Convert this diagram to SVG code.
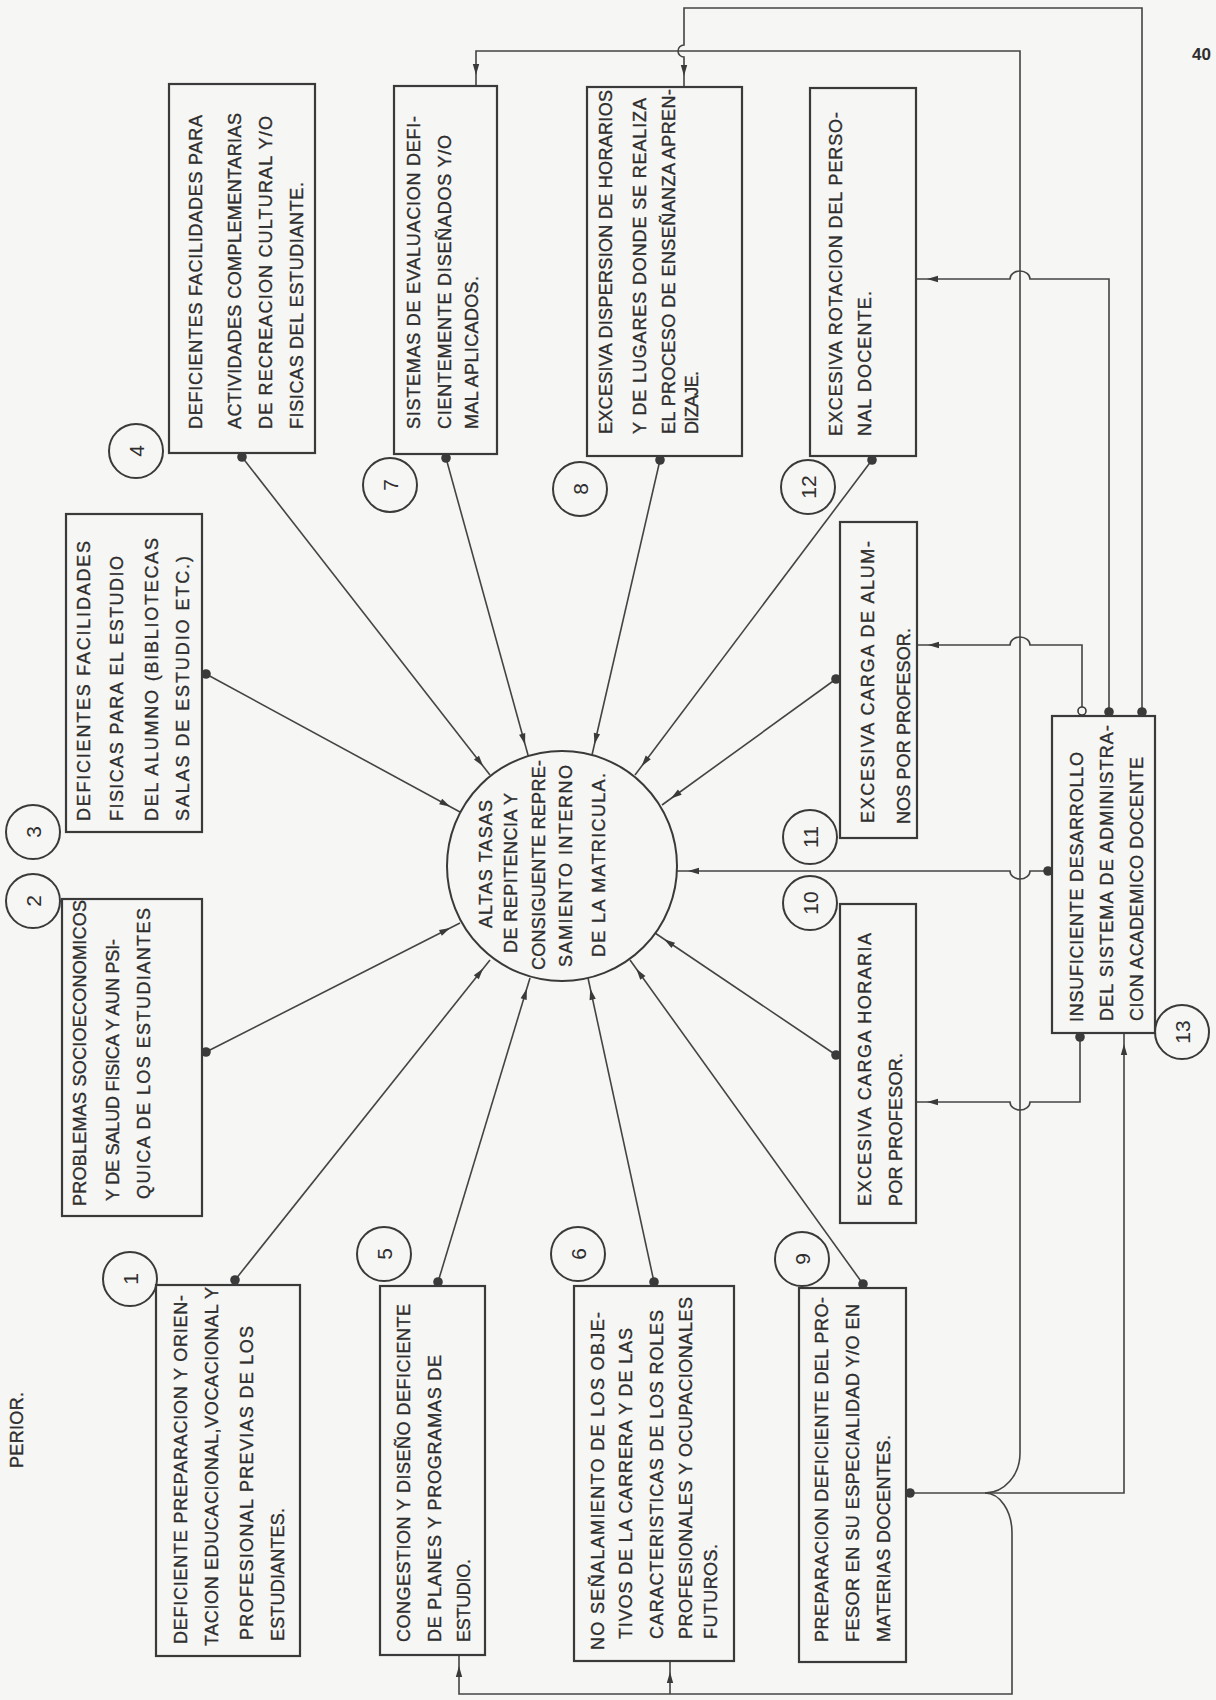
<svg xmlns="http://www.w3.org/2000/svg" width="1216" height="1700" viewBox="0 0 1216 1700">
<defs>
<marker id="arr" markerUnits="userSpaceOnUse" orient="auto" refX="22" refY="0" markerWidth="24" markerHeight="8" overflow="visible">
<path d="M0,-3.2 L11,0 L0,3.2 Z" fill="#3a3a3a"/>
</marker>
<style>
.box{fill:none;stroke:#3a3a3a;stroke-width:2.2}
.num{fill:none;stroke:#3a3a3a;stroke-width:2}
.t{font-family:"Liberation Sans",Arial,sans-serif;font-size:18px;fill:#2e2e2e;stroke:#2e2e2e;stroke-width:0.35}
.n{font-family:"Liberation Sans",Arial,sans-serif;font-size:21px;fill:#2e2e2e;text-anchor:middle;dominant-baseline:central}
.c{fill:none;stroke:#444;stroke-width:1.6}
.a{marker-end:url(#arr)}
.dot{fill:#3a3a3a}
.hol{fill:#f6f6f4;stroke:#3a3a3a;stroke-width:1.6}
</style>
</defs>
<rect width="1216" height="1700" fill="#f6f6f4"/>

<text class="t" transform="translate(22.5,1468) rotate(-90)" textLength="76" lengthAdjust="spacing">PERIOR.</text>
<text x="1192" y="60" font-family="Liberation Sans,Arial,sans-serif" font-size="17" font-weight="bold" fill="#2e2e2e">40</text>

<g id="connectors">
<path class="c a" d="M242,457 L490,775"/>
<path class="c a" d="M446,458 L528,755"/>
<path class="c a" d="M660,460 L592,755"/>
<path class="c a" d="M872,460 L635,775"/>
<path class="c a" d="M836,679 L662,805"/>
<path class="c a" d="M836,1055 L655,933"/>
<path class="c a" d="M863,1284 L630,960"/>
<path class="c a" d="M654,1282 L588,978"/>
<path class="c a" d="M438,1282 L530,978"/>
<path class="c a" d="M235,1280 L490,960"/>
<path class="c a" d="M206,1052 L460,923"/>
<path class="c a" d="M206,674 L460,812"/>
<path class="c a" d="M1048,871 H1030 a10,8 0 0,1 -20,0 H677"/>
<path class="c a" d="M1109,712 V279 H1030 a10,8 0 0,0 -20,0 H916"/>
<path class="c a" d="M1082,708 V645 H1030 a10,8 0 0,0 -20,0 H917"/>
<path class="c a" d="M1080,1037 V1102 H1030 a10,8 0 0,1 -20,0 H916"/>
<path class="c a" d="M1142,712 V8 H684 V45 a6,6 0 0,0 0,12 V87"/>
<path class="c" d="M910,1493 H985"/>
<path class="c a" d="M985,1493 H1124 V1033"/>
<path class="c a" d="M985,1493 A35,40 0 0,0 1020,1453 V51 H476 V86"/>
<path class="c a" d="M985,1493 A27,40 0 0,1 1012,1533 V1694 H459 V1655"/>
<path class="c a" d="M670,1694 V1661"/>
<circle class="dot" cx="242" cy="457" r="4.8"/>
<circle class="dot" cx="446" cy="458" r="4.8"/>
<circle class="dot" cx="660" cy="460" r="4.8"/>
<circle class="dot" cx="872" cy="460" r="4.8"/>
<circle class="dot" cx="836" cy="679" r="4.8"/>
<circle class="dot" cx="836" cy="1055" r="4.8"/>
<circle class="dot" cx="863" cy="1284" r="4.8"/>
<circle class="dot" cx="654" cy="1282" r="4.8"/>
<circle class="dot" cx="438" cy="1282" r="4.8"/>
<circle class="dot" cx="235" cy="1280" r="4.8"/>
<circle class="dot" cx="206" cy="1052" r="4.8"/>
<circle class="dot" cx="206" cy="674" r="4.8"/>
<circle class="dot" cx="1048" cy="871" r="4.8"/>
<circle class="dot" cx="1109" cy="712" r="4.8"/>
<circle class="dot" cx="1142" cy="712" r="4.8"/>
<circle class="hol" cx="1082" cy="711" r="4"/>
<circle class="dot" cx="1080" cy="1037" r="4.8"/>
<circle class="dot" cx="910" cy="1493" r="4.8"/>
</g>

<g id="center">
<circle class="num" cx="562" cy="866" r="115"/>
<text class="t" transform="translate(491.5,928) rotate(-90)" textLength="128" lengthAdjust="spacing">ALTAS TASAS</text>
<text class="t" transform="translate(516.5,953) rotate(-90)" textLength="160" lengthAdjust="spacing">DE REPITENCIA Y</text>
<text class="t" transform="translate(544.5,970) rotate(-90)" textLength="210" lengthAdjust="spacing">CONSIGUENTE REPRE-</text>
<text class="t" transform="translate(571.5,967) rotate(-90)" textLength="202" lengthAdjust="spacing">SAMIENTO INTERNO</text>
<text class="t" transform="translate(604.5,957) rotate(-90)" textLength="184" lengthAdjust="spacing">DE LA MATRICULA.</text>
</g>

<g id="n1">
<rect class="box" x="156" y="1285" width="144" height="371"/>
<circle class="num" cx="130" cy="1279" r="27"/>
<text class="n" transform="translate(130,1279) rotate(-90)">1</text>
<text class="t" transform="translate(186.5,1644) rotate(-90)" textLength="349" lengthAdjust="spacing">DEFICIENTE PREPARACION Y ORIEN-</text>
<text class="t" transform="translate(217.5,1646) rotate(-90)" textLength="359" lengthAdjust="spacing">TACION EDUCACIONAL,VOCACIONAL Y</text>
<text class="t" transform="translate(252.5,1640) rotate(-90)" textLength="314" lengthAdjust="spacing">PROFESIONAL PREVIAS DE LOS</text>
<text class="t" transform="translate(283.5,1641) rotate(-90)" textLength="133" lengthAdjust="spacing">ESTUDIANTES.</text>
</g>

<g id="n2">
<rect class="box" x="62" y="899" width="140" height="317"/>
<circle class="num" cx="33" cy="901" r="27"/>
<text class="n" transform="translate(33,901) rotate(-90)">2</text>
<text class="t" transform="translate(86,1206) rotate(-90)" textLength="306" lengthAdjust="spacing">PROBLEMAS SOCIOECONOMICOS</text>
<text class="t" transform="translate(119,1201) rotate(-90)" textLength="262" lengthAdjust="spacing">Y DE SALUD FISICA Y AUN PSI-</text>
<text class="t" transform="translate(150,1199) rotate(-90)" textLength="291" lengthAdjust="spacing">QUICA DE LOS ESTUDIANTES</text>
</g>

<g id="n3">
<rect class="box" x="66" y="514" width="136" height="318"/>
<circle class="num" cx="33" cy="832" r="27"/>
<text class="n" transform="translate(33,832) rotate(-90)">3</text>
<text class="t" transform="translate(90,821) rotate(-90)" textLength="280" lengthAdjust="spacing">DEFICIENTES FACILIDADES</text>
<text class="t" transform="translate(123,821) rotate(-90)" textLength="265" lengthAdjust="spacing">FISICAS PARA EL ESTUDIO</text>
<text class="t" transform="translate(157.5,821) rotate(-90)" textLength="283" lengthAdjust="spacing">DEL ALUMNO (BIBLIOTECAS</text>
<text class="t" transform="translate(189,821) rotate(-90)" textLength="265" lengthAdjust="spacing">SALAS DE ESTUDIO ETC.)</text>
</g>

<g id="n4">
<rect class="box" x="169" y="84" width="146" height="369"/>
<circle class="num" cx="136" cy="451" r="27"/>
<text class="n" transform="translate(136,451) rotate(-90)">4</text>
<text class="t" transform="translate(202,429) rotate(-90)" textLength="314" lengthAdjust="spacing">DEFICIENTES FACILIDADES PARA</text>
<text class="t" transform="translate(241,429) rotate(-90)" textLength="316" lengthAdjust="spacing">ACTIVIDADES COMPLEMENTARIAS</text>
<text class="t" transform="translate(272,429) rotate(-90)" textLength="313" lengthAdjust="spacing">DE RECREACION CULTURAL Y/O</text>
<text class="t" transform="translate(303,429) rotate(-90)" textLength="247" lengthAdjust="spacing">FISICAS DEL ESTUDIANTE.</text>
</g>

<g id="n5">
<rect class="box" x="380" y="1286" width="105" height="369"/>
<circle class="num" cx="384" cy="1254" r="27"/>
<text class="n" transform="translate(384,1254) rotate(-90)">5</text>
<text class="t" transform="translate(410,1642) rotate(-90)" textLength="338" lengthAdjust="spacing">CONGESTION Y DISEÑO DEFICIENTE</text>
<text class="t" transform="translate(441,1642) rotate(-90)" textLength="287" lengthAdjust="spacing">DE PLANES Y PROGRAMAS DE</text>
<text class="t" transform="translate(470,1642) rotate(-90)" textLength="83" lengthAdjust="spacing">ESTUDIO.</text>
</g>

<g id="n6">
<rect class="box" x="574" y="1286" width="160" height="375"/>
<circle class="num" cx="578" cy="1254" r="27"/>
<text class="n" transform="translate(578,1254) rotate(-90)">6</text>
<text class="t" transform="translate(603.5,1650) rotate(-90)" textLength="338" lengthAdjust="spacing">NO SEÑALAMIENTO DE LOS OBJE-</text>
<text class="t" transform="translate(632,1639) rotate(-90)" textLength="311" lengthAdjust="spacing">TIVOS DE LA CARRERA Y DE LAS</text>
<text class="t" transform="translate(663,1639) rotate(-90)" textLength="329" lengthAdjust="spacing">CARACTERISTICAS DE LOS ROLES</text>
<text class="t" transform="translate(692,1639) rotate(-90)" textLength="342" lengthAdjust="spacing">PROFESIONALES Y OCUPACIONALES</text>
<text class="t" transform="translate(717,1639) rotate(-90)" textLength="95" lengthAdjust="spacing">FUTUROS.</text>
</g>

<g id="n7">
<rect class="box" x="394" y="86" width="103" height="368"/>
<circle class="num" cx="390" cy="485" r="27"/>
<text class="n" transform="translate(390,485) rotate(-90)">7</text>
<text class="t" transform="translate(419.5,429) rotate(-90)" textLength="313" lengthAdjust="spacing">SISTEMAS DE EVALUACION DEFI-</text>
<text class="t" transform="translate(450.5,429) rotate(-90)" textLength="294" lengthAdjust="spacing">CIENTEMENTE DISEÑADOS Y/O</text>
<text class="t" transform="translate(477.5,429) rotate(-90)" textLength="153" lengthAdjust="spacing">MAL APLICADOS.</text>
</g>

<g id="n8">
<rect class="box" x="587" y="87" width="155" height="369"/>
<circle class="num" cx="580" cy="489" r="27"/>
<text class="n" transform="translate(580,489) rotate(-90)">8</text>
<text class="t" transform="translate(611.5,434) rotate(-90)" textLength="344" lengthAdjust="spacing">EXCESIVA DISPERSION DE HORARIOS</text>
<text class="t" transform="translate(645.5,434) rotate(-90)" textLength="336" lengthAdjust="spacing">Y DE LUGARES DONDE SE REALIZA</text>
<text class="t" transform="translate(674.5,434) rotate(-90)" textLength="345" lengthAdjust="spacing">EL PROCESO DE ENSEÑANZA APREN-</text>
<text class="t" transform="translate(698,434) rotate(-90)" textLength="63" lengthAdjust="spacing">DIZAJE.</text>
</g>

<g id="n9">
<rect class="box" x="799" y="1288" width="107" height="374"/>
<circle class="num" cx="802" cy="1259" r="27"/>
<text class="n" transform="translate(802,1259) rotate(-90)">9</text>
<text class="t" transform="translate(827.5,1642) rotate(-90)" textLength="345" lengthAdjust="spacing">PREPARACION DEFICIENTE DEL PRO-</text>
<text class="t" transform="translate(858.5,1642) rotate(-90)" textLength="338" lengthAdjust="spacing">FESOR EN SU ESPECIALIDAD Y/O EN</text>
<text class="t" transform="translate(889.5,1642) rotate(-90)" textLength="207" lengthAdjust="spacing">MATERIAS DOCENTES.</text>
</g>

<g id="n10">
<rect class="box" x="840" y="904" width="76" height="319"/>
<circle class="num" cx="810" cy="903" r="27"/>
<text class="n" transform="translate(810,903) rotate(-90)">10</text>
<text class="t" transform="translate(870.5,1206) rotate(-90)" textLength="273" lengthAdjust="spacing">EXCESIVA CARGA HORARIA</text>
<text class="t" transform="translate(901.5,1206) rotate(-90)" textLength="153" lengthAdjust="spacing">POR PROFESOR.</text>
</g>

<g id="n11">
<rect class="box" x="840" y="522" width="77" height="316"/>
<circle class="num" cx="810" cy="837" r="27"/>
<text class="n" transform="translate(810,837) rotate(-90)">11</text>
<text class="t" transform="translate(874,823) rotate(-90)" textLength="282" lengthAdjust="spacing">EXCESIVA CARGA DE ALUM-</text>
<text class="t" transform="translate(909.5,824) rotate(-90)" textLength="196" lengthAdjust="spacing">NOS POR PROFESOR.</text>
</g>

<g id="n12">
<rect class="box" x="810" y="88" width="106" height="368"/>
<circle class="num" cx="808" cy="487" r="27"/>
<text class="n" transform="translate(808,487) rotate(-90)">12</text>
<text class="t" transform="translate(841.5,436) rotate(-90)" textLength="324" lengthAdjust="spacing">EXCESIVA ROTACION DEL PERSO-</text>
<text class="t" transform="translate(870.5,436) rotate(-90)" textLength="145" lengthAdjust="spacing">NAL DOCENTE.</text>
</g>

<g id="n13">
<rect class="box" x="1052" y="716" width="103" height="317"/>
<circle class="num" cx="1182" cy="1032" r="27"/>
<text class="n" transform="translate(1182,1032) rotate(-90)">13</text>
<text class="t" transform="translate(1083,1022) rotate(-90)" textLength="270" lengthAdjust="spacing">INSUFICIENTE DESARROLLO</text>
<text class="t" transform="translate(1113,1021) rotate(-90)" textLength="296" lengthAdjust="spacing">DEL SISTEMA DE ADMINISTRA-</text>
<text class="t" transform="translate(1143,1021) rotate(-90)" textLength="264" lengthAdjust="spacing">CION ACADEMICO DOCENTE</text>
</g>
</svg>
